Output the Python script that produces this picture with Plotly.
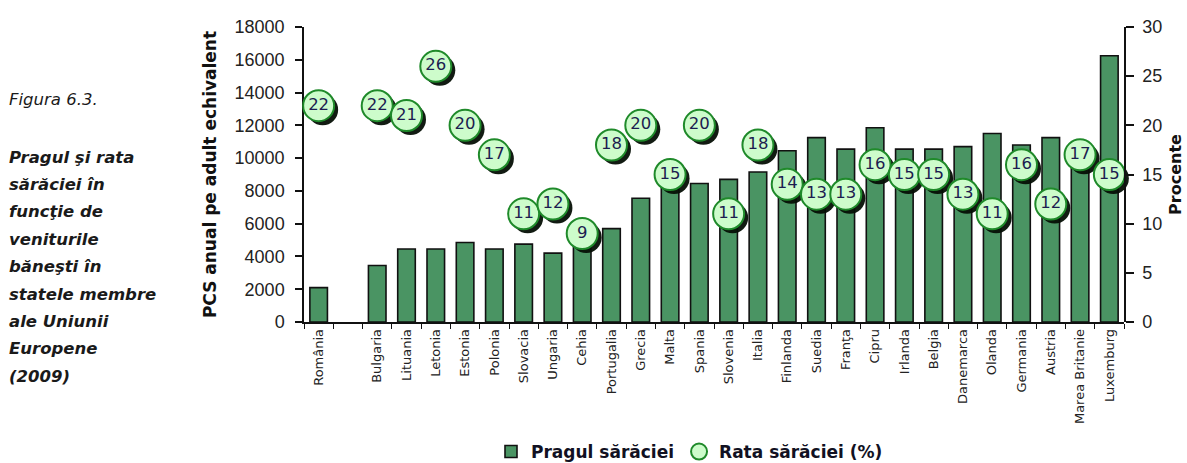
import plotly.graph_objects as go

# ---------------- data ----------------
countries = ["România", " ", "Bulgaria", "Lituania", "Letonia", "Estonia", "Polonia",
             "Slovacia", "Ungaria", "Cehia", "Portugalia", "Grecia", "Malta", "Spania",
             "Slovenia", "Italia", "Finlanda", "Suedia", "Franţa", "Cipru", "Irlanda",
             "Belgia", "Danemarca", "Olanda", "Germania", "Austria", "Marea Britanie",
             "Luxemburg"]
threshold_pcs = [2100, None, 3450, 4450, 4450, 4850, 4450, 4750, 4200, 4700, 5700, 7550,
                 8500, 8450, 8700, 9150, 10450, 11250, 10550, 11850, 10550, 10550, 10700,
                 11500, 10800, 11250, 9800, 16250]
poverty_rate = [22, None, 22, 21, 26, 20, 17, 11, 12, 9, 18, 20, 15, 20, 11, 18, 14, 13,
                13, 16, 15, 15, 13, 11, 16, 12, 17, 15]
rate_labels = [("" if v is None else str(v)) for v in poverty_rate]

left_ticks = [0, 2000, 4000, 6000, 8000, 10000, 12000, 14000, 16000, 18000]
right_ticks = [0, 5, 10, 15, 20, 25, 30]

caption_head = "Figura 6.3."
caption_lines = ["Pragul şi rata", "sărăciei în", "funcţie de", "veniturile", "băneşti în",
                 "statele membre", "ale Uniunii", "Europene", "(2009)"]

# ---------------- geometry helpers ----------------
W, H = 1187, 463
ML, MR, MT, MB = 304, 59, 27, 137
SH = 4                # shadow offset (px)
PW = W - ML - MR      # 824
PH = H - MT - MB      # 299


def px_x(x):
    return (x - ML) / PW


def px_y(y):
    return (H - MB - y) / PH


FONT = "Liberation Sans, Arial, sans-serif"
WIDE = "DejaVu Sans, Verdana, sans-serif"
BAR_COLOR = "#4a9463"
TEXT_DARK = "#1a1a1a"
MAIN_X = [0, (PW - SH) / PW]
MAIN_Y = [SH / PH, 1]

fig = go.Figure()

# bars: subplot xy
fig.add_trace(go.Bar(
    x=countries, y=threshold_pcs, name="Pragul sărăciei",
    marker=dict(color=BAR_COLOR, line=dict(color="#111111", width=1.6)),
    width=0.6, xaxis="x", yaxis="y", hoverinfo="x+y",
))

# bubble shadows: subplot x2y2 (same data, axes shifted a few pixels right/down)
fig.add_trace(go.Scatter(
    x=countries, y=poverty_rate, mode="markers", showlegend=False,
    marker=dict(size=31, color="rgba(5,15,5,0.95)", line=dict(width=0)),
    xaxis="x2", yaxis="y2", cliponaxis=False, hoverinfo="skip",
))

# bubbles: subplot x3y3 (same geometry as the bars' subplot, right-hand axis)
fig.add_trace(go.Scatter(
    x=countries, y=poverty_rate, mode="markers", name="Rata sărăciei (%)",
    marker=dict(size=31, color="#cdfccb", line=dict(color="#1f8a2a", width=2)),
    xaxis="x3", yaxis="y3", cliponaxis=False,
))

fig.add_trace(go.Scatter(
    x=countries, y=poverty_rate, mode="text", text=rate_labels, showlegend=False,
    textposition="middle center",
    textfont=dict(family=WIDE, size=16.5, color="#1c1c50"),
    xaxis="x3", yaxis="y3", cliponaxis=False, hoverinfo="skip",
))

annotations = [dict(
    text="<i>" + caption_head + "</i>", x=px_x(7), y=px_y(100), xref="paper", yref="paper",
    xanchor="left", yanchor="middle", showarrow=False,
    font=dict(family=WIDE, size=16.5, color=TEXT_DARK),
)]
for i, line in enumerate(caption_lines):
    annotations.append(dict(
        text="<b><i>" + line + "</i></b>", x=px_x(7), y=px_y(157 + 27.4 * i),
        xref="paper", yref="paper", xanchor="left", yanchor="middle", showarrow=False,
        font=dict(family=WIDE, size=16.5, color=TEXT_DARK),
    ))

cat_axis = dict(
    type="category", categoryorder="array", categoryarray=countries,
    range=[-0.5, len(countries) - 0.5], automargin=False,
)

fig.update_layout(
    width=W, height=H,
    margin=dict(l=ML, r=MR, t=MT, b=MB, autoexpand=False),
    paper_bgcolor="white", plot_bgcolor="rgba(0,0,0,0)",
    font=dict(family=FONT, color=TEXT_DARK),
    bargap=0.4,
    showlegend=True,
    legend=dict(
        orientation="h", x=px_x(491), y=px_y(452), xref="paper", yref="paper",
        xanchor="left", yanchor="middle",
        font=dict(family=WIDE, size=17, color="#111122", weight="bold"),
        itemwidth=30, bgcolor="rgba(0,0,0,0)",
    ),
    xaxis=dict(
        **cat_axis, domain=MAIN_X, anchor="y",
        showline=True, linecolor="#111111", linewidth=1.5,
        ticks="outside", ticklen=5, tickwidth=1.2, tickcolor="#111111",
        tickson="boundaries", tickangle=-90,
        tickfont=dict(family=WIDE, size=13, color="#222222"),
        showgrid=False, zeroline=False,
    ),
    yaxis=dict(
        range=[0, 18000], tickvals=left_ticks, tickformat="d", domain=MAIN_Y, anchor="x",
        automargin=False,
        showline=True, linecolor="#111111", linewidth=1.5,
        ticks="outside", ticklen=7, tickwidth=1.5, tickcolor="#111111",
        ticklabelstandoff=7,
        tickfont=dict(family=FONT, size=18, color="#222222"),
        showgrid=False, zeroline=False,
        title=dict(text="<b>PCS anual pe adult echivalent</b>", standoff=14,
                   font=dict(family=WIDE, size=17, color="#111111")),
    ),
    xaxis2=dict(**cat_axis, domain=[SH / PW, 1], anchor="y2", visible=False,
                showgrid=False),
    yaxis2=dict(range=[0, 30], domain=[0, (PH - SH) / PH], anchor="x2", visible=False,
                showgrid=False, automargin=False),
    xaxis3=dict(**cat_axis, domain=MAIN_X, anchor="y3", visible=False, showgrid=False),
    yaxis3=dict(
        range=[0, 30], tickvals=right_ticks, side="right", anchor="x3", domain=MAIN_Y,
        automargin=False,
        showline=True, linecolor="#111111", linewidth=1.5,
        ticks="outside", ticklen=8, tickwidth=1.5, tickcolor="#111111",
        ticklabelstandoff=5,
        tickfont=dict(family=FONT, size=18, color="#222222"),
        showgrid=False, zeroline=False,
        title=dict(text="<b>Procente</b>", standoff=8,
                   font=dict(family=WIDE, size=16, color="#111111")),
    ),
    annotations=annotations,
)

# remove the browser's default 8px page margin so the figure sits at the window's corner
fig.write_html(
    "out.html",
    config={"displayModeBar": False},
    post_script="document.body.style.margin='0';document.body.style.overflow='hidden';",
)
